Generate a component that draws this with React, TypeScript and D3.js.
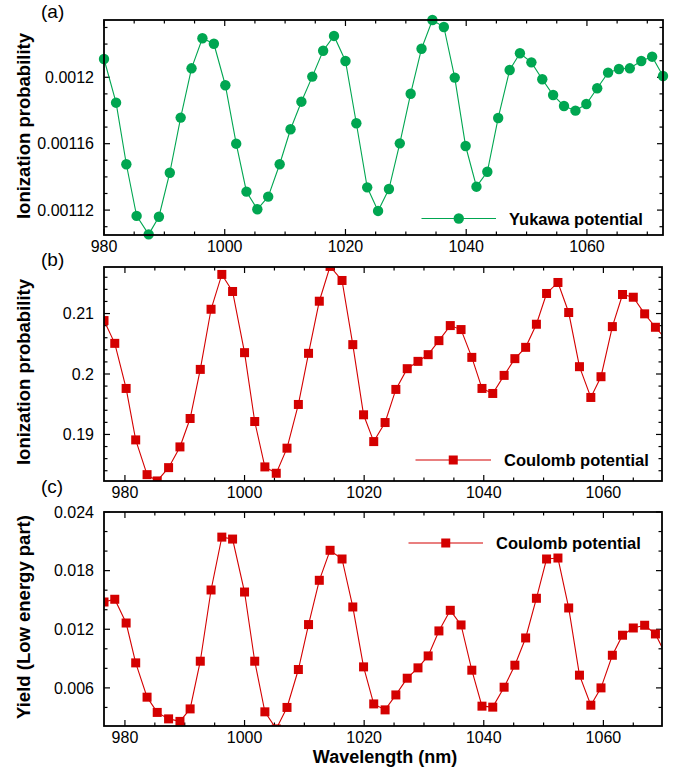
import React from "react";
import * as d3 from "d3";

// panel (a): Yukawa potential
const yukawaWave = [
  980.0, 982.0, 983.7, 985.4, 987.4, 989.1, 990.9, 992.7, 994.5, 996.3, 998.2,
  1000.1, 1001.9, 1003.6, 1005.4, 1007.2, 1009.1, 1010.9, 1012.7, 1014.5, 1016.3,
  1018.1, 1020.0, 1021.8, 1023.6, 1025.4, 1027.2, 1029.0, 1030.8, 1032.6, 1034.4,
  1036.3, 1038.1, 1039.9, 1041.7, 1043.5, 1045.3, 1047.2, 1048.9, 1050.8, 1052.6,
  1054.4, 1056.2, 1058.1, 1059.9, 1061.7, 1063.5, 1065.3, 1067.1, 1069.0, 1070.8,
  1072.6,
];
const yukawaProb = [
  0.001211, 0.0011847, 0.0011476, 0.0011165, 0.0011054, 0.001116, 0.0011425,
  0.0011757, 0.0012054, 0.0012235, 0.0012202, 0.0011952, 0.00116, 0.0011311,
  0.0011205, 0.0011281, 0.0011476, 0.0011687, 0.0011853, 0.0012004, 0.001216,
  0.0012249, 0.0012098, 0.0011723, 0.0011337, 0.0011195, 0.0011327, 0.0011602,
  0.0011901, 0.0012172, 0.0012345, 0.0012303, 0.0011998, 0.0011586, 0.0011341,
  0.0011431, 0.0011755, 0.0012044, 0.0012145, 0.001209, 0.0011988, 0.0011893,
  0.0011827, 0.0011799, 0.0011839, 0.0011934, 0.0012028, 0.001205, 0.0012054,
  0.0012098, 0.0012124, 0.0012008,
];

// panels (b) and (c): Coulomb potential
const coulombWave = [
  976.5, 978.3, 980.2, 981.8, 983.7, 985.4, 987.3, 989.2, 990.9, 992.6, 994.4,
  996.2, 998.0, 1000.0, 1001.7, 1003.4, 1005.3, 1007.1, 1009.0, 1010.7, 1012.5,
  1014.3, 1016.3, 1018.1, 1019.9, 1021.6, 1023.5, 1025.3, 1027.2, 1029.0, 1030.7,
  1032.5, 1034.4, 1036.2, 1038.0, 1039.7, 1041.5, 1043.4, 1045.2, 1047.0, 1048.8,
  1050.5, 1052.4, 1054.2, 1056.0, 1057.9, 1059.6, 1061.5, 1063.2, 1065.0, 1066.9,
  1068.7, 1070.5,
];
const coulombProb = [
  0.20884, 0.20507, 0.19761, 0.1891, 0.18335, 0.18231, 0.18451, 0.18794, 0.19264,
  0.20076, 0.21071, 0.21647, 0.21365, 0.20353, 0.19214, 0.18463, 0.18358, 0.18773,
  0.19496, 0.20342, 0.21204, 0.2178, 0.21547, 0.20486, 0.19325, 0.18882, 0.19197,
  0.19745, 0.20088, 0.20209, 0.2032, 0.20552, 0.20801, 0.20735, 0.20275, 0.19761,
  0.19678, 0.19977, 0.20254, 0.20441, 0.20823, 0.21332, 0.21514, 0.21017, 0.20121,
  0.19612, 0.19955, 0.20784, 0.21315, 0.2127, 0.20995, 0.20773, 0.2057,
];
const coulombYield = [
  0.01479, 0.01507, 0.01264, 0.00856, 0.00505, 0.00349, 0.00283, 0.00257, 0.00385,
  0.00873, 0.01602, 0.02143, 0.02123, 0.01581, 0.00873, 0.00355, 0.0018, 0.004,
  0.00788, 0.01248, 0.01701, 0.02008, 0.01919, 0.01428, 0.00815, 0.00436, 0.00375,
  0.00528, 0.00699, 0.00805, 0.00927, 0.01183, 0.01394, 0.01244, 0.00781, 0.00413,
  0.00403, 0.00607, 0.00832, 0.01111, 0.01517, 0.01919, 0.01929, 0.01418, 0.0073,
  0.00423, 0.006, 0.00934, 0.01139, 0.01213, 0.01241, 0.01152, 0.0093,
];

const xTicks = [980, 1000, 1020, 1040, 1060];
const yTicksA = [0.00112, 0.00116, 0.0012];
const yTicksB = [0.19, 0.2, 0.21];
const yTicksC = [0.006, 0.012, 0.018, 0.024];

const GREEN = "#00a651";
const RED = "#d40000";
const FONT = "'Liberation Sans', Arial, Helvetica, sans-serif";

type PanelProps = {
  id: string;
  tag: string;
  tagY: number;
  box: { left: number; right: number; top: number; bottom: number };
  xDomain: [number, number];
  yDomain: [number, number];
  xs: number[];
  ys: number[];
  yTicks: number[];
  yMinorStep: number;
  yLabel: string;
  yLabelCenter: number;
  color: string;
  marker: "circle" | "square";
  clip: boolean;
  legend: { x1: number; x2: number; y: number; text: string };
};

const Marker = ({ x, y, kind, color }: { x: number; y: number; kind: string; color: string }) =>
  kind === "circle" ? (
    <circle cx={x} cy={y} r={5.2} fill={color} />
  ) : (
    <rect x={x - 4.5} y={y - 4.5} width={9} height={9} fill={color} />
  );

const Panel = (p: PanelProps) => {
  const { left, right, top, bottom } = p.box;
  const x = d3.scaleLinear().domain(p.xDomain).range([left, right]);
  const y = d3.scaleLinear().domain(p.yDomain).range([bottom, top]);
  const line = d3
    .line<number>()
    .x((_, i) => x(p.xs[i]))
    .y((d) => y(d));

  const xMinor = d3.range(980, p.xDomain[1], 5).filter((v) => v >= p.xDomain[0]);
  const yMinor = d3
    .range(Math.ceil(p.yDomain[0] / p.yMinorStep), Math.floor(p.yDomain[1] / p.yMinorStep) + 1)
    .map((k) => k * p.yMinorStep);
  const isMajorX = (v: number) => v % 20 === 0;
  const isMajorY = (v: number) => p.yTicks.some((t) => Math.abs(t - v) < p.yMinorStep / 10);

  const clipId = `clip-${p.id}`;
  const major = 6;
  const minor = 3.5;

  return (
    <g>
      <defs>
        <clipPath id={clipId}>
          <rect x={left} y={top} width={right - left} height={bottom - top} />
        </clipPath>
      </defs>

      {/* ticks, inward on all sides */}
      <g stroke="#000" strokeWidth={1.2}>
        {xMinor.map((v) => {
          const len = isMajorX(v) ? major : minor;
          return (
            <g key={`xt${v}`}>
              <line x1={x(v)} x2={x(v)} y1={bottom} y2={bottom - len} />
              <line x1={x(v)} x2={x(v)} y1={top} y2={top + len} />
            </g>
          );
        })}
        {yMinor.map((v) => {
          const len = isMajorY(v) ? major : minor;
          return (
            <g key={`yt${v}`}>
              <line x1={left} x2={left + len} y1={y(v)} y2={y(v)} />
              <line x1={right} x2={right - len} y1={y(v)} y2={y(v)} />
            </g>
          );
        })}
      </g>

      <g clipPath={p.clip ? `url(#${clipId})` : undefined}>
        <path d={line(p.ys) ?? ""} fill="none" stroke={p.color} strokeWidth={1.1} />
        {p.ys.map((v, i) => (
          <Marker key={i} x={x(p.xs[i])} y={y(v)} kind={p.marker} color={p.color} />
        ))}
      </g>

      <rect
        x={left}
        y={top}
        width={right - left}
        height={bottom - top}
        fill="none"
        stroke="#000"
        strokeWidth={1.8}
      />

      {/* tick labels */}
      <g fontFamily={FONT} fontSize={16} fill="#000">
        {xTicks.map((v) => (
          <text key={`xl${v}`} x={x(v)} y={bottom + 17} textAnchor="middle">
            {v}
          </text>
        ))}
        {p.yTicks.map((v) => (
          <text key={`yl${v}`} x={left - 10} y={y(v) + 5.8} textAnchor="end">
            {String(v)}
          </text>
        ))}
      </g>

      <text
        transform={`translate(${30},${p.yLabelCenter}) rotate(-90)`}
        textAnchor="middle"
        fontFamily={FONT}
        fontWeight="bold"
        fontSize={18.5}
      >
        {p.yLabel}
      </text>

      <text x={41} y={p.tagY} fontFamily={FONT} fontSize={19}>
        {p.tag}
      </text>

      {/* legend */}
      <line
        x1={p.legend.x1}
        x2={p.legend.x2}
        y1={p.legend.y}
        y2={p.legend.y}
        stroke={p.color}
        strokeWidth={1.1}
      />
      <Marker x={(p.legend.x1 + p.legend.x2) / 2} y={p.legend.y} kind={p.marker} color={p.color} />
      <text
        x={p.legend.x2 + 13}
        y={p.legend.y + 6}
        fontFamily={FONT}
        fontWeight="bold"
        fontSize={16.5}
      >
        {p.legend.text}
      </text>
    </g>
  );
};

const App = () => {
  return (
    <svg
      width={676}
      height={768}
      style={{ position: "absolute", left: 0, top: 0, background: "#fff" }}
    >
      <Panel
        id="a"
        tag="(a)"
        tagY={18}
        box={{ left: 104, right: 663, top: 20, bottom: 235 }}
        xDomain={[980, 1072.6]}
        yDomain={[0.001105, 0.0012345]}
        xs={yukawaWave}
        ys={yukawaProb}
        yTicks={yTicksA}
        yMinorStep={0.00001}
        yLabel="Ionization probability"
        yLabelCenter={126}
        color={GREEN}
        marker="circle"
        clip={false}
        legend={{ x1: 421.5, x2: 496, y: 218.5, text: "Yukawa potential" }}
      />
      <Panel
        id="b"
        tag="(b)"
        tagY={266}
        box={{ left: 104, right: 662, top: 267, bottom: 481 }}
        xDomain={[976.5, 1069.8]}
        yDomain={[0.1823, 0.2177]}
        xs={coulombWave}
        ys={coulombProb}
        yTicks={yTicksB}
        yMinorStep={0.002}
        yLabel="Ionization probability"
        yLabelCenter={372}
        color={RED}
        marker="square"
        clip={true}
        legend={{ x1: 415.5, x2: 491, y: 460, text: "Coulomb potential" }}
      />
      <Panel
        id="c"
        tag="(c)"
        tagY={493}
        box={{ left: 104, right: 662, top: 512, bottom: 726 }}
        xDomain={[976.5, 1069.8]}
        yDomain={[0.0021, 0.024]}
        xs={coulombWave}
        ys={coulombYield}
        yTicks={yTicksC}
        yMinorStep={0.002}
        yLabel="Yield (Low energy part)"
        yLabelCenter={617}
        color={RED}
        marker="square"
        clip={true}
        legend={{ x1: 408.5, x2: 483, y: 543, text: "Coulomb potential" }}
      />
      <text
        x={385}
        y={763}
        textAnchor="middle"
        fontFamily={FONT}
        fontWeight="bold"
        fontSize={18}
      >
        Wavelength (nm)
      </text>
    </svg>
  );
};

export default App;
